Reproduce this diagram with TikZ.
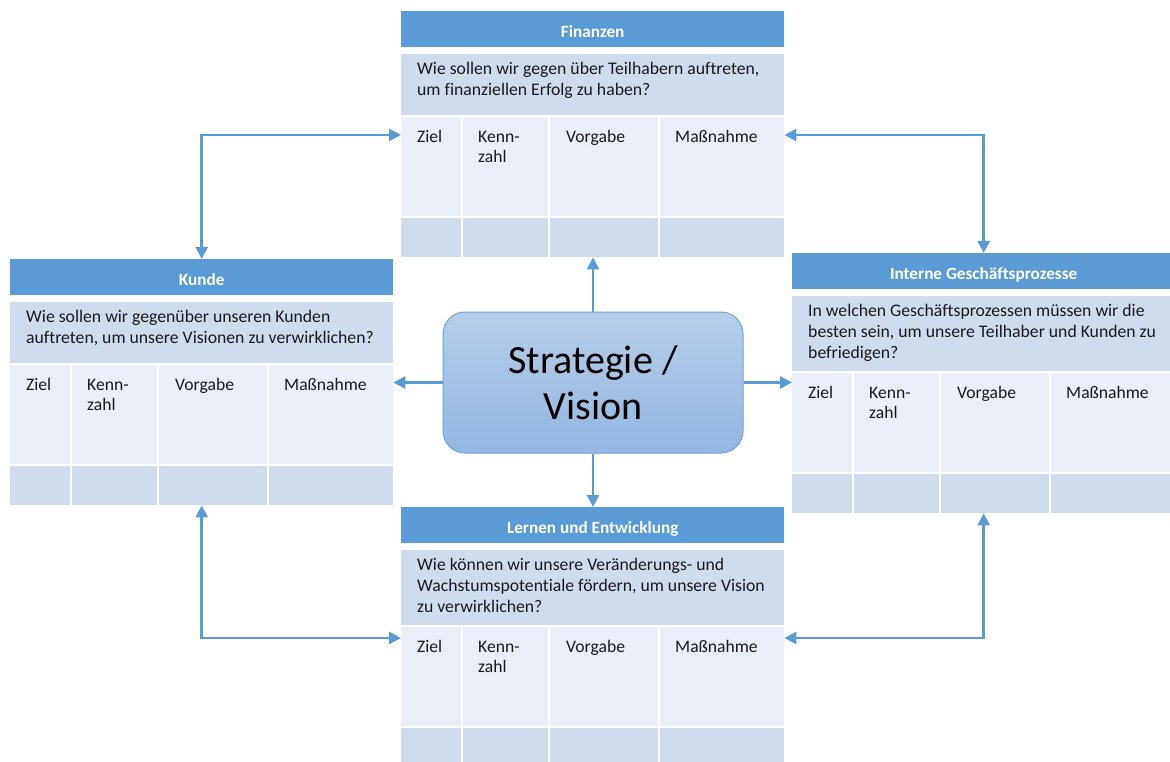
\documentclass[tikz,border=0pt]{standalone}
\usepackage{fontspec}
\setmainfont{Carlito}[Ligatures=NoCommon]
\usetikzlibrary{arrows.meta}

\definecolor{bschead}{HTML}{5B9BD5}
\definecolor{bscband}{HTML}{D0DCEE}
\definecolor{bsclight}{HTML}{E9EEF7}
\definecolor{bscline}{HTML}{5B9BD5}
\definecolor{svtop}{HTML}{B5CEEA}
\definecolor{svbot}{HTML}{93B7E2}
\definecolor{svedge}{HTML}{6FA2D9}
\definecolor{bsctext}{HTML}{1A1A1A}

\tikzset{
  hdrcell/.style={fill=bschead, inner sep=0pt, anchor=north west,
    minimum width=383pt, minimum height=36pt, text=white,
    font=\fontsize{17.2}{20}\selectfont\bfseries, text height=16pt, text depth=0pt},
  bandcell/.style={fill=bscband, inner sep=0pt, anchor=north west},
  lightcell/.style={fill=bsclight, inner sep=0pt, anchor=north west},
  qtext/.style={anchor=north west, inner sep=0pt, align=left, text=bsctext,
    font=\fontsize{17.7}{21}\selectfont},
  ctext/.style={anchor=north west, inner sep=0pt, align=left, text=bsctext,
    font=\fontsize{17.6}{20}\selectfont},
  svbox/.style={rounded corners=22pt, minimum width=300pt, minimum height=141pt,
    top color=svtop, bottom color=svbot, draw=svedge, line width=1pt,
    align=center, font=\fontsize{40}{46}\selectfont, text=black},
  link/.style={draw=bscline, line width=2.6pt, -{Triangle[length=12pt,width=12pt]}},
  biglink/.style={draw=bscline, line width=2.6pt,
    {Triangle[length=12pt,width=12pt]}-{Triangle[length=12pt,width=12pt]}},
}

% One perspective table: #1 name prefix, #2 left x, #3 top y,
% #4 title, #5 guiding question, #6 height of the question row
\newcommand{\bsctable}[6]{%
  \node[hdrcell] (#1-h) at (#2,#3) {#4};
  \node[bandcell, minimum width=383pt, minimum height=#6pt] (#1-q) at (#2,#3+43) {};
  \node[qtext] (#1-qt) at (#2+16,#3+49) {\strut #5};
  \foreach \dx/\w/\k in {0/60/1, 62/85/2, 149/108/3, 259/124/4} {
    \node[lightcell, minimum width=\w pt, minimum height=99pt] (#1-m\k) at (#2+\dx,#3+45+#6) {};
    \node[bandcell, minimum width=\w pt, minimum height=39pt] (#1-b\k) at (#2+\dx,#3+146+#6) {};
  }
  \node[ctext] (#1-t1) at (#2+16,#3+56+#6) {\strut Ziel};
  \node[ctext] (#1-t2) at (#2+77,#3+56+#6) {\strut Kenn-\\zahl};
  \node[ctext] (#1-t3) at (#2+165,#3+56+#6) {\strut Vorgabe};
  \node[ctext] (#1-t4) at (#2+274,#3+56+#6) {\strut Maßnahme};
}

\begin{document}
\begin{tikzpicture}[x=1pt,y=-1pt]
\useasboundingbox (0,0) rectangle (1170,762);
\clip (0,0) rectangle (1170,762);
\fill[white] (0,0) rectangle (1170,762);

\bsctable{fin}{401}{11}{Finanzen}{Wie sollen wir gegen über Teilhabern auftreten,\\um finanziellen Erfolg zu haben?}{61}
\bsctable{kun}{10}{259}{Kunde}{Wie sollen wir gegenüber unseren Kunden\\auftreten, um unsere Visionen zu verwirklichen?}{61}
\bsctable{int}{792}{253}{Interne Geschäftsprozesse}{In welchen Geschäftsprozessen müssen wir die\\besten sein, um unsere Teilhaber und Kunden zu\\befriedigen?}{75}
\bsctable{lrn}{401}{507}{Lernen und Entwicklung}{Wie können wir unsere Veränderungs- und\\Wachstumspotentiale fördern, um unsere Vision\\zu verwirklichen?}{75}

% central strategy box
\node[svbox] (sv) at (593,382.5) {Strategie /\\Vision};

% arrows from the strategy to the four perspectives
\draw[link] (sv.north) -- (sv.north |- fin-b3.south);
\draw[link] (sv.south) -- (sv.south |- lrn-h.north);
\draw[link] (sv.west) -- (sv.west -| kun-m4.east);
\draw[link] (sv.east) -- (sv.east -| int-m1.west);

% links between neighbouring perspectives
\coordinate (upy) at (0,135);
\coordinate (lowy) at (0,638);
\draw[biglink] (kun-h.north) -- (kun-h.north |- upy) -- (upy -| fin-m1.west);
\draw[biglink] (int-h.north) -- (int-h.north |- upy) -- (upy -| fin-m4.east);
\draw[biglink] (kun-h.north |- kun-b1.south) -- (kun-h.north |- lowy) -- (lowy -| lrn-m1.west);
\draw[biglink] (int-h.north |- int-b1.south) -- (int-h.north |- lowy) -- (lowy -| lrn-m4.east);
\end{tikzpicture}
\end{document}
